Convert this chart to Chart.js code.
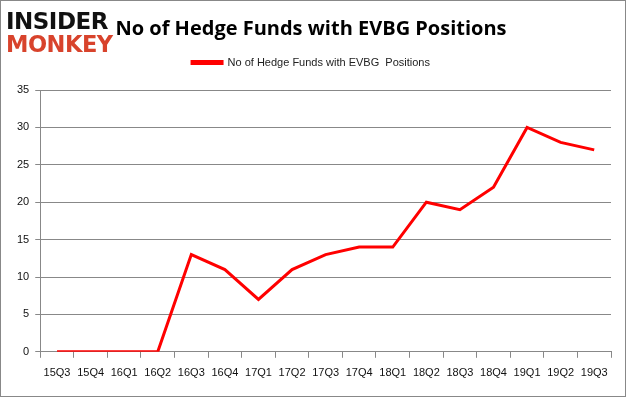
<!DOCTYPE html>
<html>
<head>
<meta charset="utf-8">
<script src="https://cdn.jsdelivr.net/npm/chart.js@4"></script>
<style>
  html, body { margin: 0; padding: 0; background: #fff; }
  #wrap { position: relative; width: 626px; height: 397px; box-sizing: border-box; border: 1px solid #888; overflow: hidden; }
  #chart { position: absolute; left: 0; top: 0; }
  .logo { position: absolute; left: 5px; font-family: "DejaVu Sans", sans-serif; font-weight: bold; font-size: 23px; letter-spacing: -0.5px; line-height: 22px; transform-origin: left top; }
  #logo1 { top: 9px; color: #111; }
  #logo2 { top: 32px; color: #d8432c; transform: scaleX(0.98); }
</style>
</head>
<body>
<div id="wrap">
  <canvas id="chart" width="624" height="395"></canvas>
  <div class="logo" id="logo1">INSIDER</div>
  <div class="logo" id="logo2">MONKEY</div>
</div>
<script>
// quarters on the x axis
const quarters = ['15Q3', '15Q4', '16Q1', '16Q2', '16Q3', '16Q4', '17Q1', '17Q2', '17Q3',
  '17Q4', '18Q1', '18Q2', '18Q3', '18Q4', '19Q1', '19Q2', '19Q3'];
// number of hedge funds holding EVBG
const fundCounts = [0, 0, 0, 0, 13, 11, 7, 11, 13, 14, 14, 20, 19, 22, 30, 28, 27];
const seriesLabel = 'No of Hedge Funds with EVBG  Positions';
const yTicks = [0, 5, 10, 15, 20, 25, 30, 35];

const tickFont = { family: '"Liberation Sans", Arial, sans-serif', size: 11 };

// push the plot area a bit further below the legend
const legendGap = {
  id: 'legendGap',
  beforeInit(chart) {
    const origFit = chart.legend.fit;
    chart.legend.fit = function () {
      origFit.bind(chart.legend)();
      this.height += 12;
    };
  }
};

new Chart(document.getElementById('chart'), {
  type: 'line',
  data: {
    labels: quarters,
    datasets: [{
      label: seriesLabel,
      data: fundCounts,
      borderColor: '#ff0000',
      backgroundColor: '#ff0000',
      borderWidth: 3,
      pointRadius: 0,
      tension: 0
    }]
  },
  options: {
    responsive: false,
    animation: false,
    layout: { padding: { left: 10, right: 14, top: 4, bottom: 7 } },
    plugins: {
      title: {
        display: true,
        text: 'No of Hedge Funds with EVBG Positions',
        color: '#000',
        font: { family: '"Open Sans", sans-serif', size: 20, weight: 'bold' },
        padding: { top: 12, bottom: 4 }
      },
      legend: {
        display: true,
        labels: {
          boxWidth: 30,
          boxHeight: 2,
          color: '#222',
          font: { family: '"Liberation Sans", Arial, sans-serif', size: 11 },
          padding: 12
        }
      },
      tooltip: { enabled: false }
    },
    scales: {
      x: {
        offset: true,
        grid: {
          offset: true,
          drawOnChartArea: false,
          drawTicks: true,
          tickLength: 6,
          color: '#888'
        },
        border: { color: '#888' },
        ticks: { color: '#111', font: tickFont, maxRotation: 0, autoSkip: false, padding: 9 }
      },
      y: {
        min: 0,
        max: 35,
        afterBuildTicks: axis => { axis.ticks = yTicks.map(v => ({ value: v })); },
        grid: { color: '#888', tickLength: 5 },
        border: { color: '#888' },
        ticks: { color: '#111', font: tickFont, padding: 6 }
      }
    }
  },
  plugins: [legendGap]
});
</script>
</body>
</html>
